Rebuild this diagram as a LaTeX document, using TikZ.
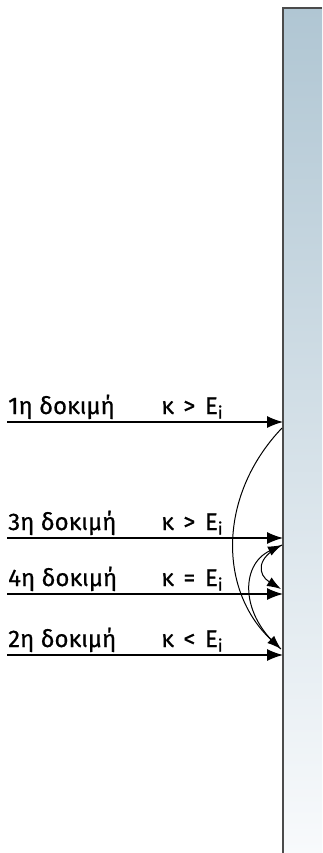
\documentclass[tikz,border=0pt]{standalone}
\usepackage{fontspec}
\newfontfamily\lblfont[FakeBold=0.6]{Fira Sans}
\usetikzlibrary{arrows.meta}
\definecolor{barTop}{RGB}{176,198,211}
\definecolor{barBot}{RGB}{248,250,252}
\definecolor{barEdge}{RGB}{75,75,75}
\newcommand{\rel}[1]{κ\hspace{0.4em}#1\hspace{0.4em}E\textsubscript{i}}
\tikzset{
  lbl/.style={anchor=base west, inner sep=0pt, font=\lblfont\fontsize{24}{28}\selectfont},
  trial/.style={-{Latex[length=16pt,width=12pt]}, line width=1.2pt},
  hop/.style={-{Latex[length=14pt,width=10pt]}, line width=1pt},
}
\begin{document}
\begin{tikzpicture}[x=1pt, y=-1pt]
  \useasboundingbox (0,0) rectangle (322,853);
  % the bar runs off the right and bottom edges
  \shade[top color=barTop, bottom color=barBot] (283,8) rectangle (322,853);
  \draw[barEdge, line width=2pt] (283,853) -- (283,8) -- (322,8);
  % the four trials, in the order of their rows
  \node[lbl] (l1) at (8,414) {1η δοκιμή};
  \node[lbl] (c1) at (161,414) {\rel{>}};
  \node[lbl] (l3) at (8,530) {3η δοκιμή};
  \node[lbl] (c3) at (161,530) {\rel{>}};
  \node[lbl] (l4) at (8,586) {4η δοκιμή};
  \node[lbl] (c4) at (161,586) {\rel{=}};
  \node[lbl] (l2) at (8,647) {2η δοκιμή};
  \node[lbl] (c2) at (161,647) {\rel{<}};
  \coordinate (s1) at (7,422);  \coordinate (t1) at (283,422);
  \coordinate (s3) at (7,538);  \coordinate (t3) at (283,538);
  \coordinate (s4) at (7,594);  \coordinate (t4) at (283,594);
  \coordinate (s2) at (7,655);  \coordinate (t2) at (283,655);
  \draw[trial] (s1) -- (t1);
  \draw[trial] (s3) -- (t3);
  \draw[trial] (s4) -- (t4);
  \draw[trial] (s2) -- (t2);
  % hops from one trial to the next
  \coordinate (h1) at (282,428);
  \coordinate (h2) at (281,649);
  \coordinate (h3) at (282,545);
  \coordinate (h4) at (281,589);
  \draw[hop] (h1) .. controls (218,495) and (218,590) .. (h2);
  \draw[hop] (h2) .. controls (240,615) and (240,565) .. (h3);
  \draw[hop] (h3) .. controls (255,558) and (258,575) .. (h4);
\end{tikzpicture}
\end{document}
